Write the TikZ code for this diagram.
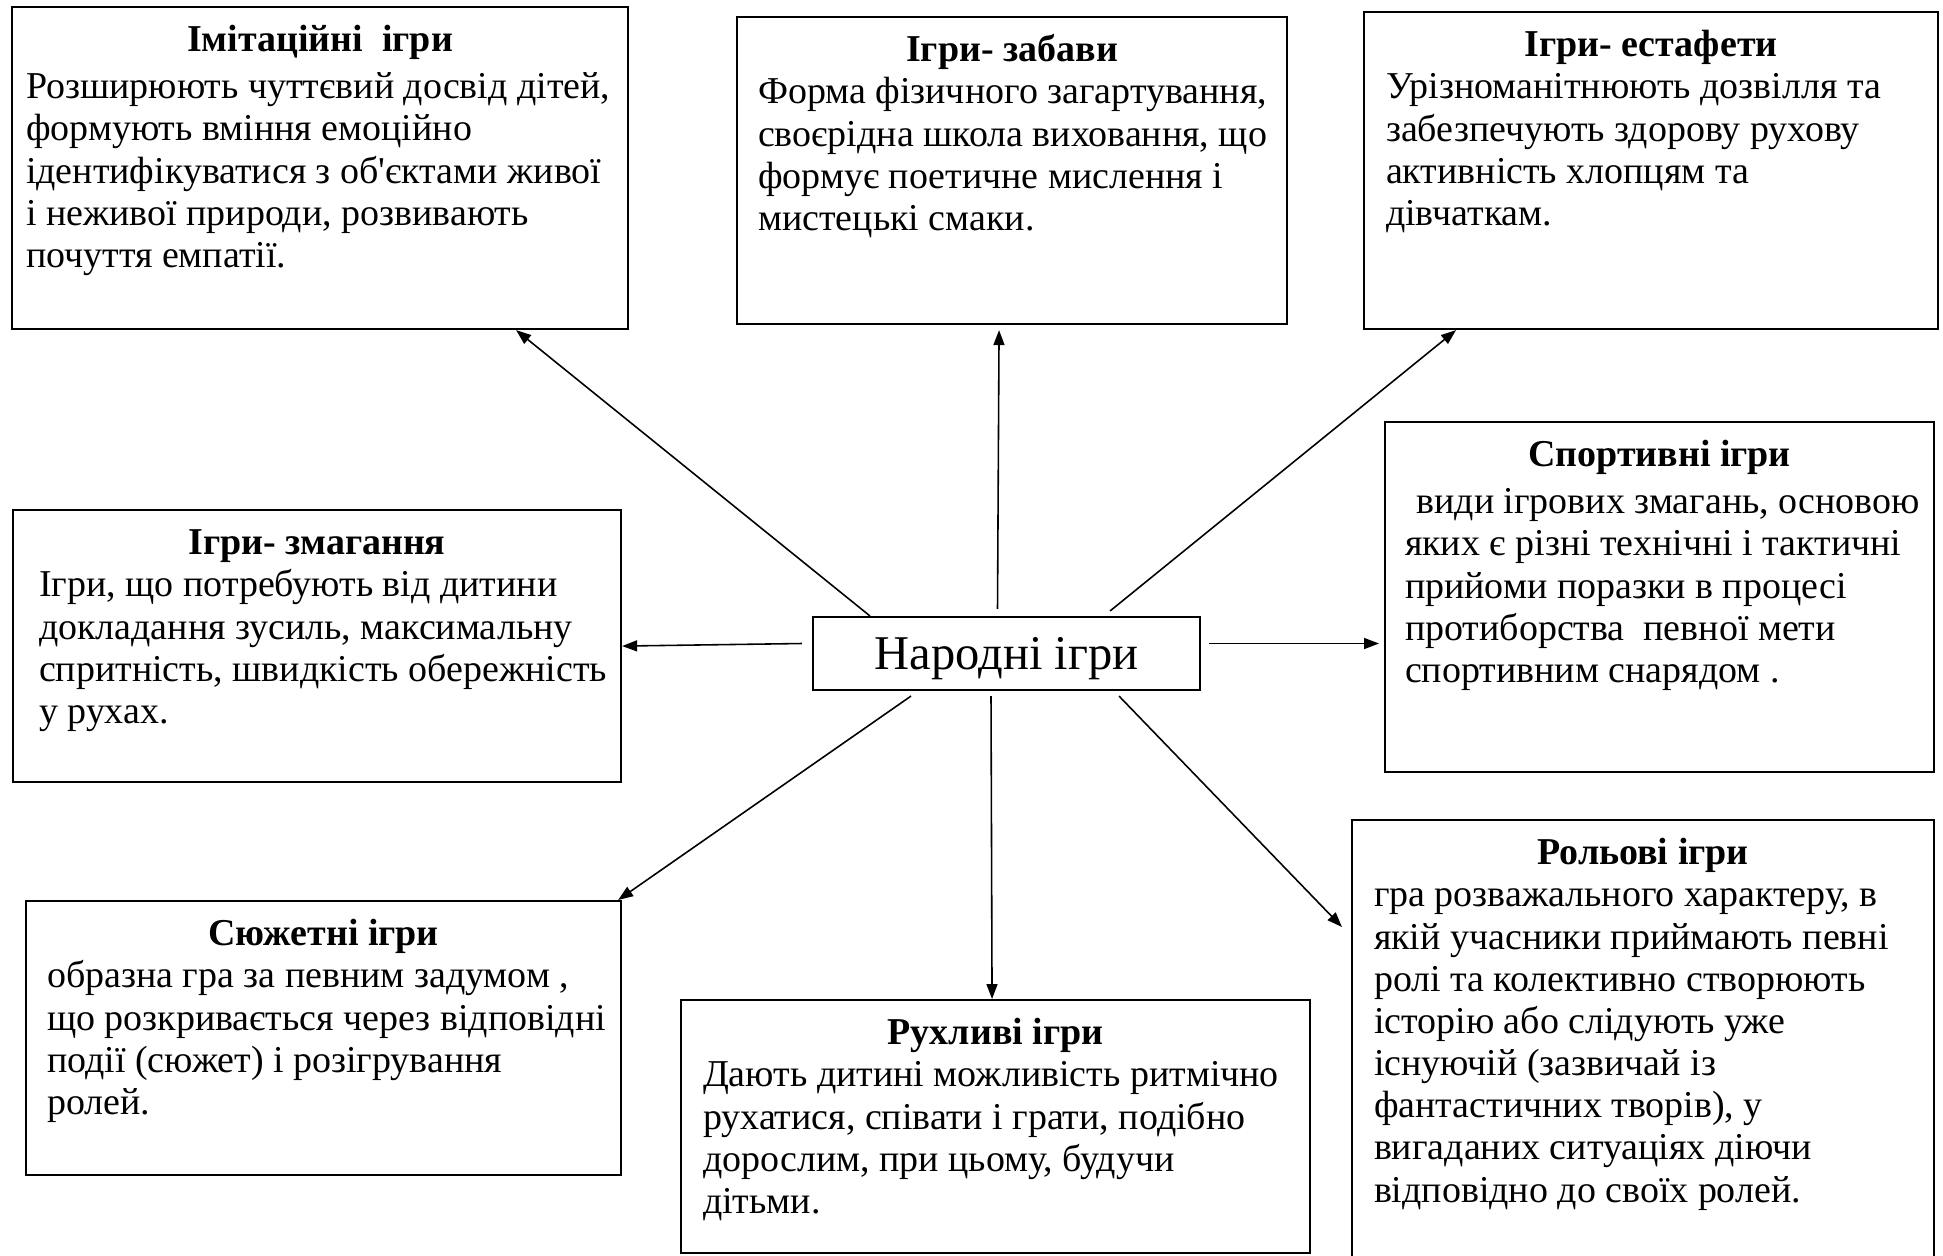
\documentclass[tikz,border=0pt]{standalone}
\usepackage{fontspec}
\setmainfont{Liberation Serif}
\usetikzlibrary{arrows.meta, positioning, calc}
\tikzset{
  gamebox/.style={draw, line width=0.6pt, anchor=north west, inner sep=0pt,
    font=\fontsize{10.8pt}{12pt}\selectfont},
  hubbox/.style={draw, line width=0.6pt, minimum width=3.87cm, minimum height=0.73cm,
    inner sep=0pt, text depth=0pt, font=\fontsize{13.8pt}{16pt}\selectfont},
  link/.style={line width=0.45pt, -{Triangle[length=1.5mm, width=1.1mm]}}
}
% width, height, left pad, title, body
\newcommand{\gamecard}[5]{%
  \parbox[t][#2][t]{#1}{\centering\bfseries\rule{0pt}{12.7pt}#4\par
  \mdseries\raggedright\leftskip=#3\relax #5}}

\begin{document}
\begin{tikzpicture}
  \useasboundingbox (0,0) rectangle (19.43,-12.55);

  \node[hubbox] (hub) at (10.065,-6.535) {Народні ігри};

  \node[gamebox] (imit) at (0.11,-0.06) {\gamecard{6.16cm}{3.22cm}{0.14cm}{Імітаційні\ \ ігри}{%
    \vspace{1.4pt}Розширюють чуттєвий досвід дітей,\\
    формують вміння емоційно\\
    ідентифікуватися з об\textquotesingle єктами живої\\
    і неживої природи, розвивають\\
    почуття емпатії.}};
  \node[gamebox] (fun) at (7.36,-0.16) {\gamecard{5.50cm}{3.07cm}{0.21cm}{Ігри- забави}{%
    Форма фізичного загартування,\\
    своєрідна школа виховання, що\\
    формує поетичне мислення і\\
    мистецькі смаки.}};
  \node[gamebox] (relay) at (13.63,-0.11) {\gamecard{5.74cm}{3.17cm}{0.22cm}{Ігри- естафети}{%
    Урізноманітнюють дозвілля та\\
    забезпечують здорову рухову\\
    активність хлопцям та\\
    дівчаткам.}};
  \node[gamebox] (sport) at (13.84,-4.21) {\gamecard{5.49cm}{3.50cm}{0.20cm}{Спортивні ігри}{%
    \vspace{1.4pt}\hspace*{0.3em}види ігрових змагань, основою\\
    яких є різні технічні і тактичні\\
    прийоми поразки в процесі\\
    протиборства\ \ певної мети\\
    спортивним снарядом .}};
  \node[gamebox] (contest) at (0.12,-5.09) {\gamecard{6.08cm}{2.72cm}{0.26cm}{Ігри- змагання}{%
    Ігри, що потребують від дитини\\
    докладання зусиль, максимальну\\
    спритність, швидкість обережність\\
    у рухах.}};
  \node[gamebox] (plot) at (0.25,-9.00) {\gamecard{5.95cm}{2.74cm}{0.21cm}{Сюжетні ігри}{%
    образна гра за певним задумом ,\\
    що розкривається через відповідні\\
    події (сюжет) і розігрування\\
    ролей.}};
  \node[gamebox] (active) at (6.80,-9.99) {\gamecard{6.29cm}{2.53cm}{0.22cm}{Рухливі ігри}{%
    Дають дитині можливість ритмічно\\
    рухатися, співати і грати, подібно\\
    дорослим, при цьому, будучи\\
    дітьми.}};
  \node[gamebox] (role) at (13.51,-8.19) {\gamecard{5.82cm}{4.50cm}{0.22cm}{Рольові ігри}{%
    гра розважального характеру, в\\
    якій учасники приймають певні\\
    ролі та колективно створюють\\
    історію або слідують уже\\
    існуючій (зазвичай із\\
    фантастичних творів), у\\
    вигаданих ситуаціях діючи\\
    відповідно до своїх ролей.}};

  % arrows from the centre
  \draw[link] ([xshift=0.58cm]hub.north west) -- ([xshift=-1.13cm]imit.south east);
  \draw[link] ([xshift=-0.09cm, yshift=0.07cm]hub.north) -- ([xshift=-0.13cm, yshift=-0.05cm]fun.south);
  \draw[link] ([xshift=-0.91cm, yshift=0.05cm]hub.north east) -- ([xshift=0.93cm]relay.south west);
  \draw[link] ([xshift=-0.1cm, yshift=0.1cm]hub.west) -- (contest.east);
  \draw[link] ([xshift=0.08cm, yshift=0.1cm]hub.east) -- ($(hub.east -| sport.west)+(-0.05,0.1)$);
  \draw[link] ([xshift=-0.955cm, yshift=-0.05cm]hub.south) -- ([xshift=-0.04cm]plot.north east);
  \draw[link] ([xshift=-0.155cm, yshift=-0.05cm]hub.south) -- ([xshift=-0.035cm]active.north);
  \draw[link] ([xshift=1.125cm, yshift=-0.05cm]hub.south) -- ([xshift=-0.09cm, yshift=-1.08cm]role.north west);
\end{tikzpicture}
\end{document}
